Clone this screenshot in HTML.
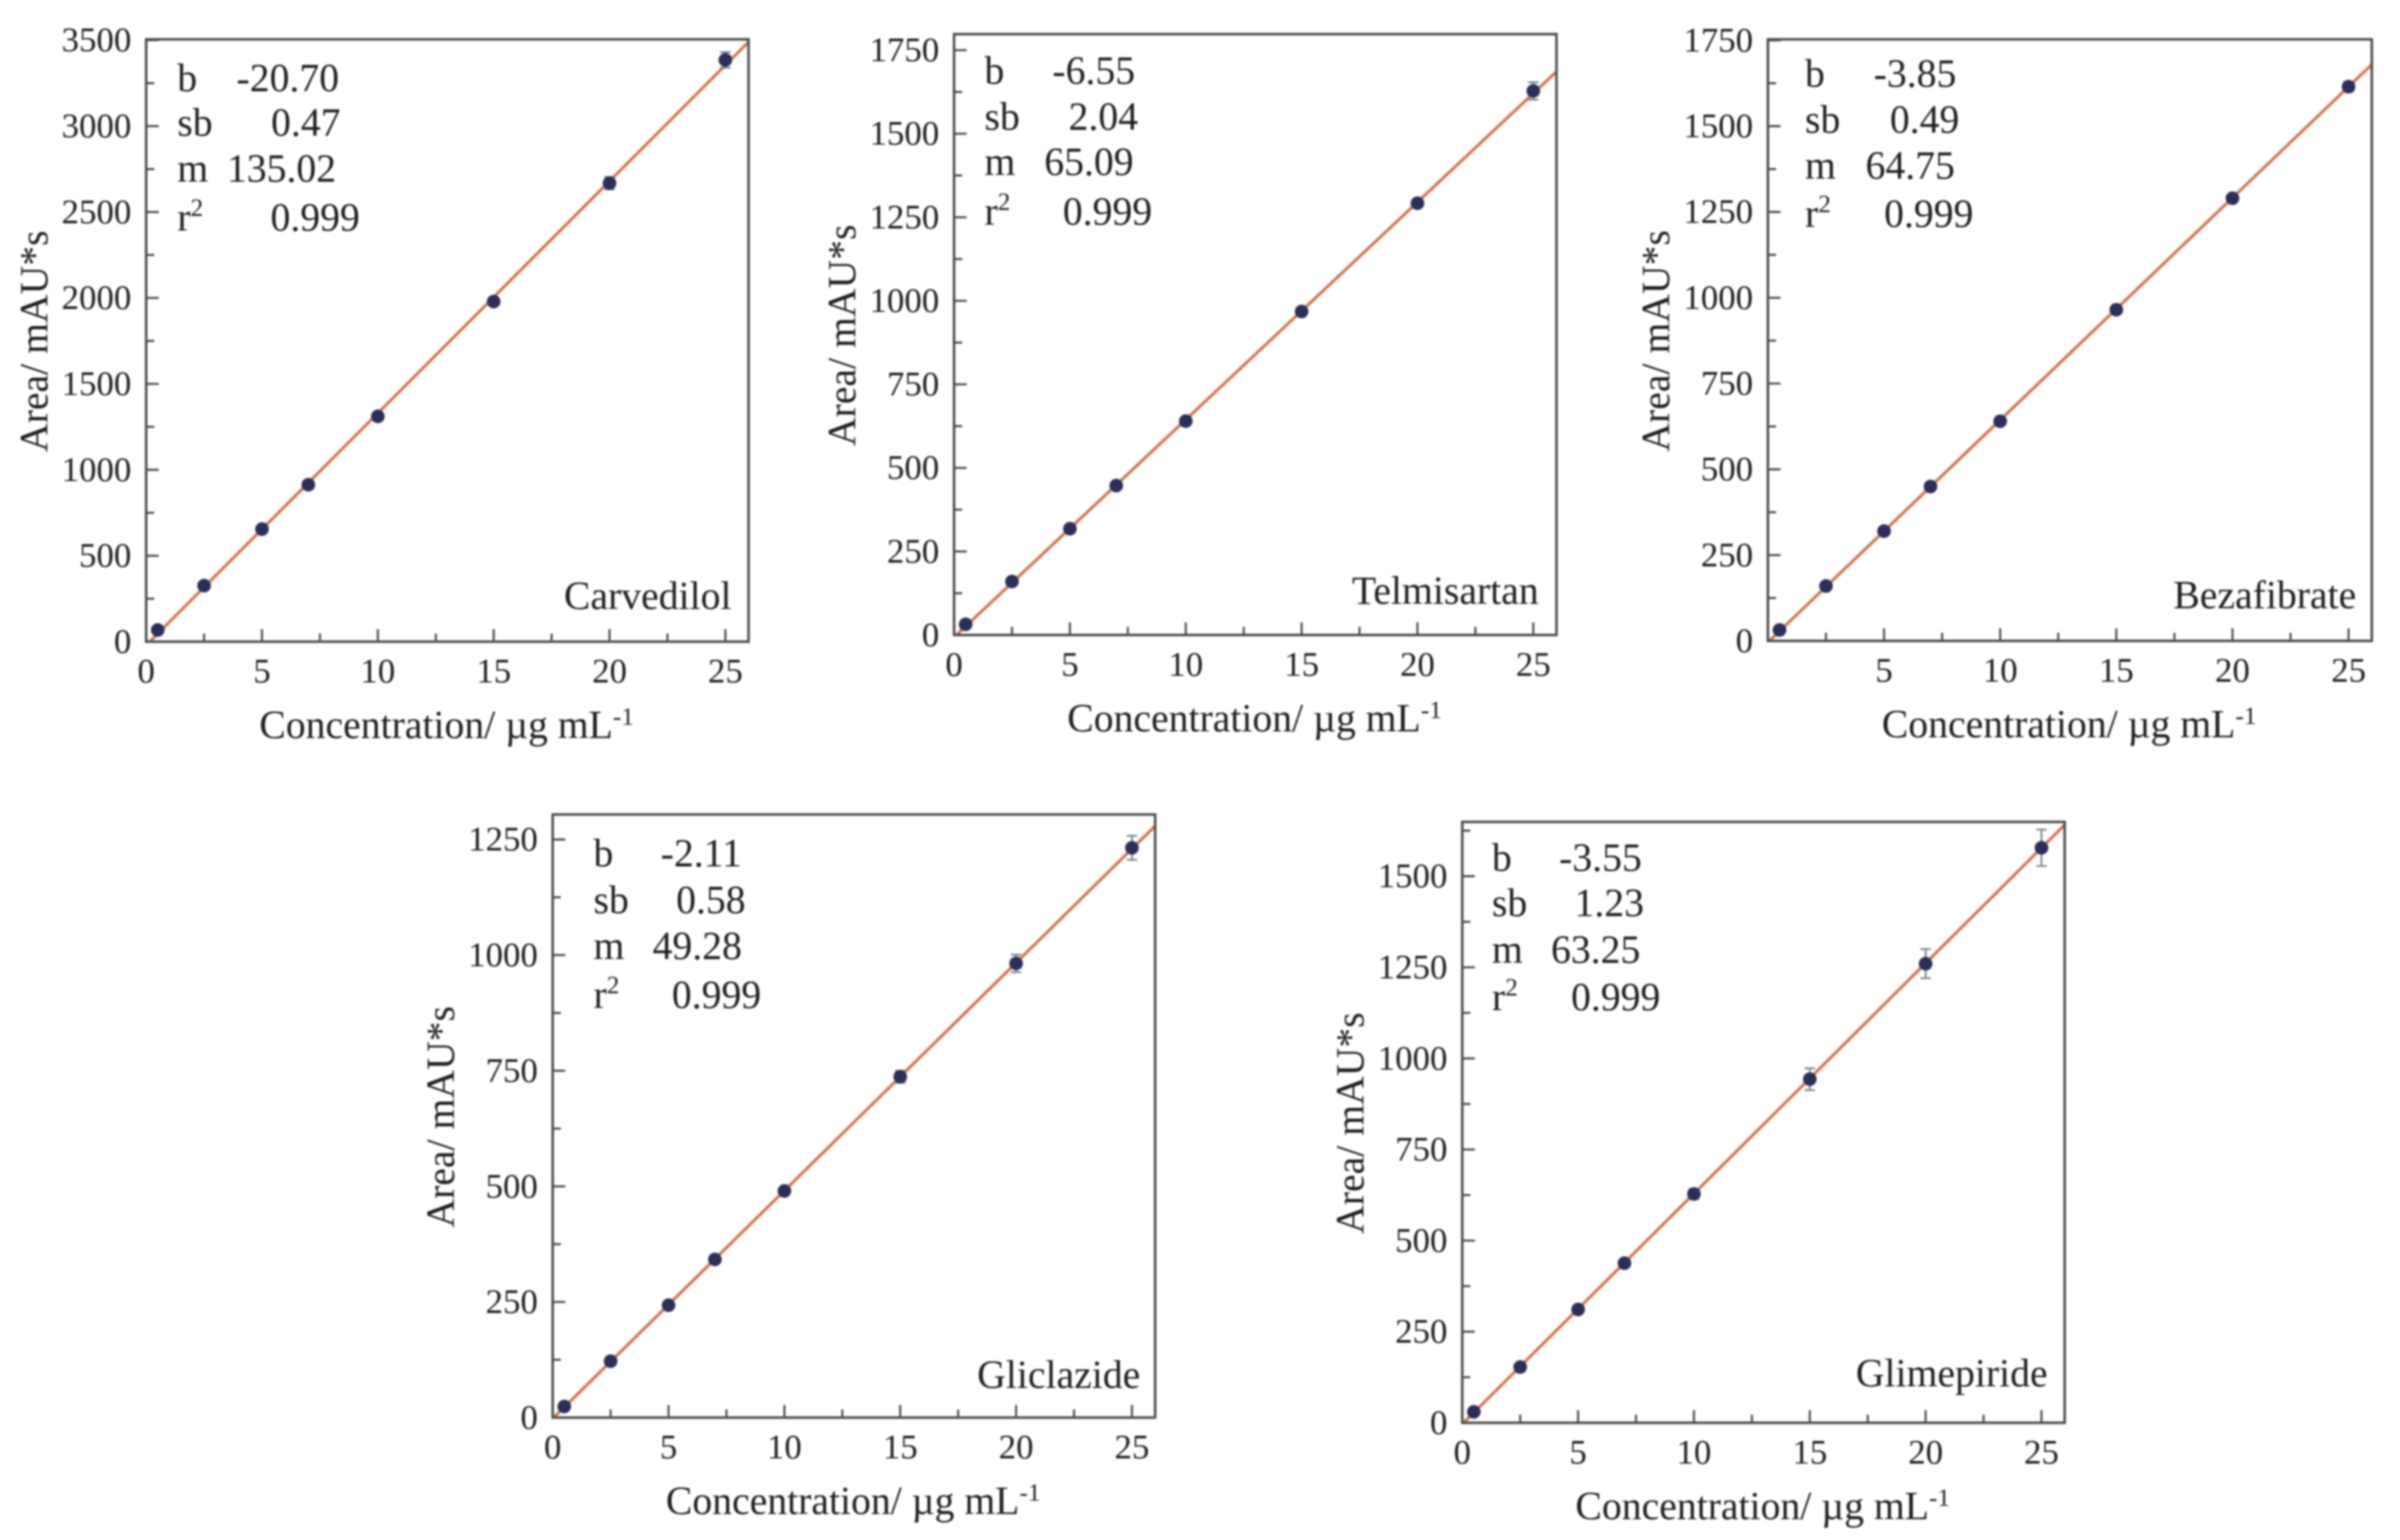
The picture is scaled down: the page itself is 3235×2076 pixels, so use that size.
<!DOCTYPE html>
<html lang="en">
<head>
<meta charset="utf-8">
<title>Calibration curves</title>
<style>
html,body{margin:0;padding:0;background:#fff;width:3235px;height:2076px;overflow:hidden}
svg{display:block;filter:blur(1.3px)}
text{font-family:"Liberation Serif","DejaVu Serif",serif;fill:#1e1e1e}
</style>
</head>
<body>
<svg id="figure" xmlns="http://www.w3.org/2000/svg" width="3235" height="2076" viewBox="0 0 3235 2076"></svg>
<script>
const concentrations = [0.5, 2.5, 5, 7, 10, 15, 20, 25];
const xTickLabels = [0, 5, 10, 15, 20, 25];
const xTickLabelsNoZero = [5, 10, 15, 20, 25];
const xMajorTicks = [0, 5, 10, 15, 20, 25];
const xMinorTicks = [2.5, 7.5, 12.5, 17.5, 22.5];
const statLabels = ['b', 'sb', 'm', 'r'];

const carvedilolArea = [68, 326, 655, 913, 1311, 1979, 2668, 3385];
const carvedilolError = [4, 6, 8, 10, 14, 20, 36, 45];
const carvedilolFit = [-20.70, 135.02];
const carvedilolStats = ['-20.70', '0.47', '135.02', '0.999'];
const carvedilolYTicks = [0, 500, 1000, 1500, 2000, 2500, 3000, 3500];

const telmisartanArea = [32, 160, 318, 447, 640, 968, 1292, 1628];
const telmisartanError = [2, 3, 4, 5, 7, 12, 12, 26];
const telmisartanFit = [-6.55, 65.09];
const telmisartanStats = ['-6.55', '2.04', '65.09', '0.999'];
const telmisartanYTicks = [0, 250, 500, 750, 1000, 1250, 1500, 1750];

const bezafibrateArea = [32, 160, 320, 450, 640, 965, 1290, 1615];
const bezafibrateError = [2, 3, 3, 4, 5, 7, 10, 14];
const bezafibrateFit = [-3.85, 64.75];
const bezafibrateStats = ['-3.85', '0.49', '64.75', '0.999'];
const bezafibrateYTicks = [0, 250, 500, 750, 1000, 1250, 1500, 1750];

const gliclazideArea = [24, 122, 243, 342, 490, 737, 982, 1232];
const gliclazideError = [2, 3, 4, 5, 7, 13, 19, 26];
const gliclazideFit = [-2.11, 49.28];
const gliclazideStats = ['-2.11', '0.58', '49.28', '0.999'];
const gliclazideYTicks = [0, 250, 500, 750, 1000, 1250];

const glimepirideArea = [30, 153, 311, 438, 628, 943, 1260, 1578];
const glimepirideError = [2, 4, 6, 8, 14, 30, 40, 50];
const glimepirideFit = [-3.55, 63.25];
const glimepirideStats = ['-3.55', '1.23', '63.25', '0.999'];
const glimepirideYTicks = [0, 250, 500, 750, 1000, 1250, 1500];

const panels = [
  { name: 'Carvedilol', slug: 'carvedilol', area: carvedilolArea, error: carvedilolError, fit: carvedilolFit, stats: carvedilolStats, yTicks: carvedilolYTicks, xLabels: xTickLabels, yMax: 3505,
    box: { l: 197, r: 1009, t: 53, b: 865 }, statX: 239, statEnds: [457, 459, 453, 485], statY: [123, 183, 245, 311], nameEnd: 986, nameY: 821 },
  { name: 'Telmisartan', slug: 'telmisartan', area: telmisartanArea, error: telmisartanError, fit: telmisartanFit, stats: telmisartanStats, yTicks: telmisartanYTicks, xLabels: xTickLabels, yMax: 1798,
    box: { l: 1286, r: 2098, t: 46, b: 856 }, statX: 1327, statEnds: [1530, 1534, 1528, 1553], statY: [113, 175, 236, 303], nameEnd: 2074, nameY: 814 },
  { name: 'Bezafibrate', slug: 'bezafibrate', area: bezafibrateArea, error: bezafibrateError, fit: bezafibrateFit, stats: bezafibrateStats, yTicks: bezafibrateYTicks, xLabels: xTickLabelsNoZero, yMax: 1753,
    box: { l: 2383, r: 3197, t: 53, b: 864 }, statX: 2433, statEnds: [2637, 2641, 2635, 2660], statY: [117, 179, 241, 306], nameEnd: 3176, nameY: 820 },
  { name: 'Gliclazide', slug: 'gliclazide', area: gliclazideArea, error: gliclazideError, fit: gliclazideFit, stats: gliclazideStats, yTicks: gliclazideYTicks, xLabels: xTickLabels, yMax: 1304,
    box: { l: 745, r: 1557, t: 1098, b: 1911 }, statX: 800, statEnds: [1000, 1005, 1000, 1026], statY: [1168, 1231, 1293, 1359], nameEnd: 1537, nameY: 1871 },
  { name: 'Glimepiride', slug: 'glimepiride', area: glimepirideArea, error: glimepirideError, fit: glimepirideFit, stats: glimepirideStats, yTicks: glimepirideYTicks, xLabels: xTickLabels, yMax: 1649,
    box: { l: 1971, r: 2783, t: 1108, b: 1918 }, statX: 2011, statEnds: [2213, 2216, 2211, 2238], statY: [1174, 1235, 1298, 1362], nameEnd: 2760, nameY: 1869 }
];

const X_MAX = 26;
const SVG_NS = 'http://www.w3.org/2000/svg';
const TICK_FONT = 47;
const TEXT_FONT = 53.5;
const figure = document.getElementById('figure');

function svgEl(tag, attrs, parent, content) {
  const el = document.createElementNS(SVG_NS, tag);
  for (const key in attrs) el.setAttribute(key, attrs[key]);
  if (content !== undefined) el.textContent = content;
  parent.appendChild(el);
  return el;
}

panels.forEach(function (p) {
  const box = p.box;
  const xScale = function (v) { return box.l + (v / X_MAX) * (box.r - box.l); };
  const yScale = function (v) { return box.b - (v / p.yMax) * (box.b - box.t); };

  const group = svgEl('g', {}, figure);
  
  

  const clipId = 'clip-' + p.slug;
  const defs = svgEl('defs', {}, group);
  const clip = svgEl('clipPath', { id: clipId }, defs);
  svgEl('rect', { x: box.l, y: box.t, width: box.r - box.l, height: box.b - box.t }, clip);

  // fit line
  const xStart = Math.max(0, -p.fit[0] / p.fit[1]);
  const halo = svgEl('line', { x1: xScale(xStart), y1: yScale(p.fit[0] + p.fit[1] * xStart), x2: xScale(X_MAX), y2: yScale(p.fit[0] + p.fit[1] * X_MAX), stroke: '#fae6d8', 'stroke-width': 7, 'clip-path': 'url(#' + clipId + ')' }, group);
  
  
  const fitLine = svgEl('line', { x1: xScale(xStart), y1: yScale(p.fit[0] + p.fit[1] * xStart), x2: xScale(X_MAX), y2: yScale(p.fit[0] + p.fit[1] * X_MAX), stroke: '#bf6748', 'stroke-width': 3, 'clip-path': 'url(#' + clipId + ')' }, group);
  
  

  // error bars and points
  concentrations.forEach(function (c, i) {
    const cx = xScale(c);
    const top = yScale(p.area[i] + p.error[i]);
    const bottom = yScale(p.area[i] - p.error[i]);
    const bar = svgEl('path', { d: 'M' + (cx - 7) + ' ' + top + 'H' + (cx + 7) + 'M' + cx + ' ' + top + 'V' + bottom + 'M' + (cx - 7) + ' ' + bottom + 'H' + (cx + 7), fill: 'none', stroke: '#73858f', 'stroke-width': 2.4 }, group);
    
    
    const dot = svgEl('circle', { cx: cx, cy: yScale(p.area[i]), r: 9.2, fill: '#2c2e58' }, group);
    
    
  });

  // frame
  const frame = svgEl('rect', { x: box.l, y: box.t, width: box.r - box.l, height: box.b - box.t, fill: 'none', stroke: '#4a4a4a', 'stroke-width': 3.4 }, group);
  
  

  // x axis ticks
  xMajorTicks.forEach(function (v) {
    const tick = svgEl('line', { x1: xScale(v), x2: xScale(v), y1: box.b, y2: box.b - 17, stroke: '#4a4a4a', 'stroke-width': 2.8 }, group);
    
    
  });
  xMinorTicks.forEach(function (v) {
    const tick = svgEl('line', { x1: xScale(v), x2: xScale(v), y1: box.b, y2: box.b - 11, stroke: '#4a4a4a', 'stroke-width': 2.8 }, group);
    
    
  });
  p.xLabels.forEach(function (v) {
    const label = svgEl('text', { x: xScale(v), y: box.b + 55, 'text-anchor': 'middle', 'font-size': TICK_FONT }, group, String(v));
    
    
  });

  // y axis ticks
  const step = p.yTicks[1] - p.yTicks[0];
  p.yTicks.forEach(function (v) {
    const tick = svgEl('line', { x1: box.l, x2: box.l + 17, y1: yScale(v), y2: yScale(v), stroke: '#4a4a4a', 'stroke-width': 2.8 }, group);
    
    
    const label = svgEl('text', { x: box.l - 20, y: yScale(v) + 15, 'text-anchor': 'end', 'font-size': TICK_FONT }, group, String(v));
    
    
    if (v + step / 2 <= p.yMax) {
      const minor = svgEl('line', { x1: box.l, x2: box.l + 11, y1: yScale(v + step / 2), y2: yScale(v + step / 2), stroke: '#4a4a4a', 'stroke-width': 2.8 }, group);
      
      
    }
  });

  // axis titles
  const xTitle = svgEl('text', { x: (box.l + box.r) / 2 - 1, y: box.b + 130, 'text-anchor': 'middle', 'font-size': TEXT_FONT }, group);
  
  
  svgEl('tspan', {}, xTitle, 'Concentration/ \u00b5g mL');
  svgEl('tspan', { dy: -18, 'font-size': 34 }, xTitle, '-1');

  const midY = (box.t + box.b) / 2 + 1;
  const yTitle = svgEl('text', { x: box.l - 133, y: midY, 'text-anchor': 'middle', 'font-size': TEXT_FONT, transform: 'rotate(-90 ' + (box.l - 133) + ' ' + midY + ')' }, group, 'Area/ mAU*s');
  
  

  // statistics block
  statLabels.forEach(function (label, i) {
    const key = svgEl('text', { x: p.statX, y: p.statY[i], 'font-size': TEXT_FONT }, group);
    
    
    svgEl('tspan', {}, key, label);
    if (label === 'r') svgEl('tspan', { dy: -20, 'font-size': 34 }, key, '2');
    const val = svgEl('text', { x: p.statEnds[i], y: p.statY[i], 'text-anchor': 'end', 'font-size': TEXT_FONT }, group, p.stats[i]);
    
    
  });

  // compound name
  const name = svgEl('text', { x: p.nameEnd, y: p.nameY, 'text-anchor': 'end', 'font-size': TEXT_FONT }, group, p.name);
  
  
});
</script>
</body>
</html>
